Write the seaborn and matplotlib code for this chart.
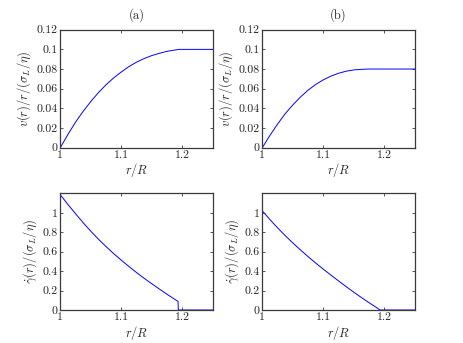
import numpy as np
import pandas as pd
import matplotlib
matplotlib.use("Agg")
import matplotlib.pyplot as plt
import seaborn as sns

# ---- data ----
r_top_a = [1.0, 1.0125, 1.025, 1.0375, 1.05, 1.0625, 1.075, 1.0875, 1.1, 1.1125,
           1.125, 1.1375, 1.15, 1.1625, 1.175, 1.1875, 1.195, 1.25]
v_top_a = [0.0, 0.0135, 0.026, 0.037, 0.047, 0.056, 0.064, 0.071, 0.077, 0.0825,
           0.087, 0.0907, 0.0937, 0.096, 0.098, 0.0993, 0.1, 0.1]

r_top_b = [1.0, 1.0125, 1.025, 1.0375, 1.05, 1.0625, 1.075, 1.0875, 1.1, 1.1125,
           1.125, 1.1375, 1.15, 1.1625, 1.175, 1.19, 1.25]
v_top_b = [0.0, 0.0125, 0.024, 0.0345, 0.0435, 0.0515, 0.0585, 0.0643, 0.069, 0.0728,
           0.0757, 0.0778, 0.0791, 0.0797, 0.08, 0.08, 0.08]

r_bot_a = [1.0, 1.0125, 1.025, 1.0375, 1.05, 1.0625, 1.075, 1.0875, 1.1, 1.1125,
           1.125, 1.1375, 1.15, 1.1625, 1.175, 1.1875, 1.193, 1.1935, 1.25]
g_bot_a = [1.185, 1.085, 0.99, 0.897, 0.81, 0.728, 0.652, 0.58, 0.512, 0.447,
           0.385, 0.326, 0.27, 0.215, 0.162, 0.11, 0.088, 0.0, 0.0]

r_bot_b = [1.0, 1.0125, 1.025, 1.0375, 1.05, 1.0625, 1.075, 1.0875, 1.1, 1.1125,
           1.125, 1.1375, 1.15, 1.1625, 1.175, 1.1875, 1.193, 1.25]
g_bot_b = [1.02, 0.93, 0.845, 0.765, 0.69, 0.618, 0.549, 0.483, 0.42, 0.359,
           0.299, 0.24, 0.183, 0.128, 0.075, 0.024, 0.0, 0.0]

titles = ["(a)", "(b)"]
xticks = [1, 1.1, 1.2]
xtick_labels = ["1", "1.1", "1.2"]
yticks_top = [0, 0.02, 0.04, 0.06, 0.08, 0.1, 0.12]
ytick_labels_top = ["0", "0.02", "0.04", "0.06", "0.08", "0.1", "0.12"]
yticks_bot = [0, 0.2, 0.4, 0.6, 0.8, 1.0]
ytick_labels_bot = ["0", "0.2", "0.4", "0.6", "0.8", "1"]

sns.set_style("ticks")
plt.rcParams["font.family"] = ["cmr10", "DejaVu Serif"]
plt.rcParams["mathtext.fontset"] = "cm"
plt.rcParams["axes.formatter.use_mathtext"] = True

fig = plt.figure(figsize=(4.63, 3.43), dpi=100)
W, H = 463.0, 343.0
lefts = [60.3, 262.3]
width = 152.5
rows = [(29.7, 147.7), (193.3, 310.0)]

def make_ax(x0, y0, y1):
    return fig.add_axes([x0 / W, 1 - y1 / H, width / W, (y1 - y0) / H])

frame_col = "#3a3a3a"
line_col = "#0000ff"

panels = [
    (0, 0, r_top_a, v_top_a), (0, 1, r_top_b, v_top_b),
    (1, 0, r_bot_a, g_bot_a), (1, 1, r_bot_b, g_bot_b),
]
for row, col, xs, ys in panels:
    ax = make_ax(lefts[col], rows[row][0], rows[row][1])
    df = pd.DataFrame({"r": xs, "y": ys})
    sns.lineplot(data=df, x="r", y="y", ax=ax, color=line_col, linewidth=0.7,
                 sort=False, estimator=None)
    ax.set_xlim(1, 1.25)
    ax.set_xticks(xticks)
    ax.set_xticklabels(xtick_labels)
    if row == 0:
        ax.set_ylim(0, 0.12)
        ax.set_yticks(yticks_top)
        ax.set_yticklabels(ytick_labels_top)
        ax.set_ylabel(r"$v(r)/r/(\sigma_L/\eta)$", fontsize=9, labelpad=2)
        ax.set_title(titles[col], fontsize=9, pad=8)
    else:
        ax.set_ylim(0, 1.2)
        ax.set_yticks(yticks_bot)
        ax.set_yticklabels(ytick_labels_bot)
        ax.set_ylabel(r"$\dot{\gamma}(r)/(\sigma_L/\eta)$", fontsize=9, labelpad=2)
    ax.set_xlabel(r"$r/R$", fontsize=9, labelpad=1)
    ax.tick_params(direction="in", top=True, right=True, length=2.5, width=0.6,
                   labelsize=8.5, pad=2, colors=frame_col, labelcolor="#222222")
    for s in ax.spines.values():
        s.set_visible(True)
        s.set_color(frame_col)
        s.set_linewidth(0.9)

fig.savefig("out.png", dpi=100)
